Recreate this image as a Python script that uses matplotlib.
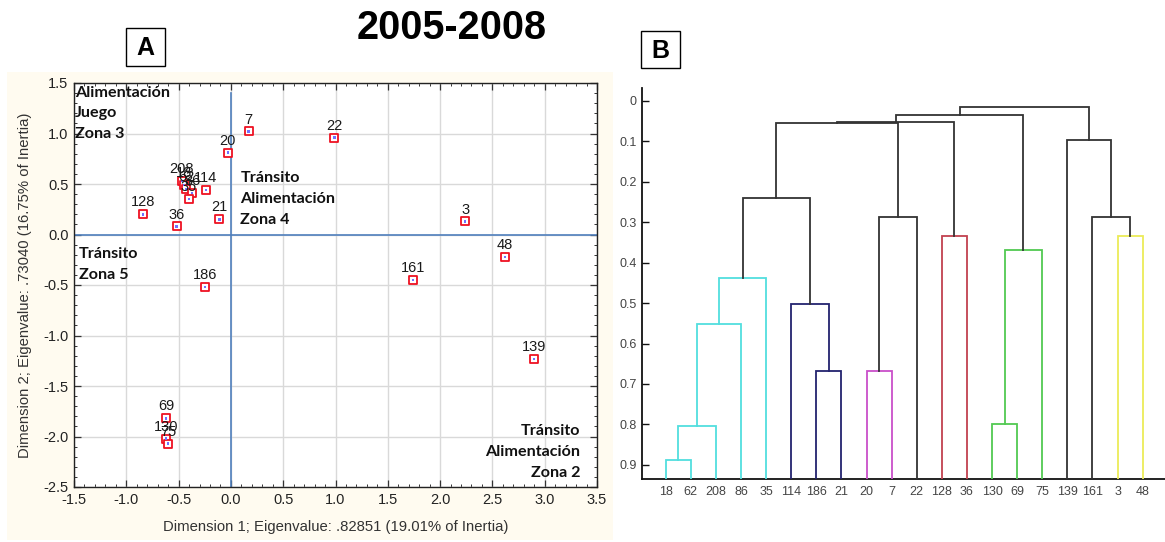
import matplotlib
matplotlib.use("Agg")
import matplotlib.pyplot as plt
from matplotlib.patches import Rectangle

# ---------------- data: panel A (correspondence map) ----------------
point_labels = ['7', '22', '20', '128', '36', '21', '114', '186',
                '208', '18', '62', '86', '35',
                '3', '48', '161', '139', '69', '130', '75']
dim1 = [0.17, 0.99, -0.03, -0.84, -0.52, -0.11, -0.24, -0.25,
        -0.47, -0.45, -0.43, -0.37, -0.40,
        2.24, 2.62, 1.74, 2.90, -0.62, -0.62, -0.60]
dim2 = [1.02, 0.96, 0.81, 0.20, 0.08, 0.15, 0.44, -0.52,
        0.53, 0.49, 0.45, 0.41, 0.35,
        0.13, -0.22, -0.45, -1.23, -1.82, -2.02, -2.07]

zone_texts = ['Alimentación\nJuego\nZona 3',
              'Tránsito\nAlimentación\nZona 4',
              'Tránsito\nZona 5',
              'Tránsito\nAlimentación\nZona 2']
zone_x = [-1.49, 0.09, -1.45, 3.34]
zone_y = [1.475, 0.625, -0.125, -1.88]
zone_ha = ['left', 'left', 'left', 'right']

xticks_a = [-1.5, -1.0, -0.5, 0.0, 0.5, 1.0, 1.5, 2.0, 2.5, 3.0, 3.5]
yticks_a = [-2.5, -2.0, -1.5, -1.0, -0.5, 0.0, 0.5, 1.0, 1.5]
xlabel_a = 'Dimension 1; Eigenvalue: .82851 (19.01% of Inertia)'
ylabel_a = 'Dimension 2; Eigenvalue: .73040 (16.75% of Inertia)'

# ---------------- data: panel B (dendrogram) ----------------
leaves = ['18', '62', '208', '86', '35', '114', '186', '21', '20', '7',
          '22', '128', '36', '130', '69', '75', '139', '161', '3', '48']
# (name, left child, right child, height, colour key)
merges = [
    ('m0', '18', '62', 0.889, 'cyan'),
    ('m1', 'm0', '208', 0.804, 'cyan'),
    ('m2', 'm1', '86', 0.551, 'cyan'),
    ('m3', 'm2', '35', 0.437, 'cyan'),
    ('m4', '186', '21', 0.667, 'navy'),
    ('m5', '114', 'm4', 0.501, 'navy'),
    ('m6', 'm3', 'm5', 0.241, 'black'),
    ('m7', '20', '7', 0.667, 'magenta'),
    ('m8', 'm7', '22', 0.286, 'black'),
    ('m9', 'm6', 'm8', 0.054, 'black'),
    ('m10', '128', '36', 0.334, 'red'),
    ('m11', 'm9', 'm10', 0.051, 'black'),
    ('m12', '130', '69', 0.799, 'green'),
    ('m13', 'm12', '75', 0.369, 'green'),
    ('m14', 'm11', 'm13', 0.036, 'black'),
    ('m15', '3', '48', 0.334, 'yellow'),
    ('m16', '161', 'm15', 0.286, 'black'),
    ('m17', '139', 'm16', 0.0965, 'black'),
    ('m18', 'm14', 'm17', 0.014, 'black'),
]
yticks_b = [0, 0.1, 0.2, 0.3, 0.4, 0.5, 0.6, 0.7, 0.8, 0.9]
yticklabels_b = ['0', '0.1', '0.2', '0.3', '0.4', '0.5', '0.6', '0.7', '0.8', '0.9']

link_colors = {'cyan': '#52dede', 'navy': '#23236e', 'magenta': '#c94fc9',
               'red': '#c2414f', 'green': '#52c952', 'yellow': '#ecec58',
               'black': '#333333'}

# ---------------- figure ----------------
W, H = 1165, 542
fig = plt.figure(figsize=(W / 100, H / 100), dpi=100)
fig.patch.set_facecolor('white')

def fx(px):
    return px / W

def fy(py):
    return 1 - py / H

# cream panel background for A
fig.patches.append(Rectangle((fx(7), fy(540)), fx(613) - fx(7), fy(72) - fy(540),
                             transform=fig.transFigure, facecolor='#fffbf0',
                             edgecolor='none', zorder=-5))

sans = ['Liberation Sans', 'DejaVu Sans']
bold_lab = ['Lato', 'DejaVu Sans']

# title and panel letters
fig.text(fx(452), fy(28), '2005-2008', ha='center', va='center',
         fontsize=28.5, fontweight='bold', family=sans)
for letter, (x0, y0, x1, y1) in [('A', (126, 28, 165, 66)), ('B', (641, 31, 680, 68))]:
    fig.patches.append(Rectangle((fx(x0), fy(y1)), fx(x1) - fx(x0), fy(y0) - fy(y1),
                                 transform=fig.transFigure, facecolor='white',
                                 edgecolor='black', linewidth=1.0, zorder=1))
    fig.text(fx((x0 + x1) / 2), fy((y0 + y1) / 2 + 1), letter, ha='center', va='center',
             fontsize=18, fontweight='bold', family=sans, zorder=2)

# ---------------- panel A ----------------
axA = fig.add_axes([fx(74), fy(487), fx(597) - fx(74), fy(83) - fy(487)])
axA.set_zorder(2)
axA.set_facecolor('white')
axA.set_xlim(-1.5, 3.5)
axA.set_ylim(-2.5, 1.5)
axA.set_xticks(xticks_a)
axA.set_yticks(yticks_a)
axA.set_xticklabels([f'{v:.1f}' for v in xticks_a])
axA.set_yticklabels([f'{v:.1f}' for v in yticks_a])
axA.xaxis.set_minor_locator(matplotlib.ticker.MultipleLocator(0.1))
axA.yaxis.set_minor_locator(matplotlib.ticker.MultipleLocator(0.1))
axA.tick_params(which='both', direction='in', top=True, right=True,
                labelsize=10.5, labelcolor='#222222', color='#333333')
axA.tick_params(which='major', length=5, width=0.9, pad=4)
axA.tick_params(which='minor', length=2.5, width=0.7)
axA.grid(True, which='major', color='#d9d9d9', linewidth=1.0)
axA.set_axisbelow(True)
for lbl in axA.get_xticklabels() + axA.get_yticklabels():
    lbl.set_family(sans)
for s in axA.spines.values():
    s.set_color('#222222')
    s.set_linewidth(1.0)

axA.plot([0, 0], [-2.5, 1.40], color='#4f7fbd', linewidth=1.2, zorder=2)
axA.axhline(0, color='#4f7fbd', linewidth=1.2, zorder=2)

axA.scatter(dim1, dim2, marker='s', s=30, facecolor='white', edgecolor='#ee1122',
            linewidth=1.3, zorder=4)
axA.scatter(dim1, dim2, marker='s', s=3, facecolor='#7070ff', edgecolor='none', zorder=5)
for lab, x, y in zip(point_labels, dim1, dim2):
    axA.annotate(lab, (x, y), xytext=(0, 3.5), textcoords='offset points',
                 ha='center', va='bottom', fontsize=10.5, color='#1a1a1a',
                 family=sans, zorder=6)

for t, x, y, ha in zip(zone_texts, zone_x, zone_y, zone_ha):
    axA.text(x, y, t, ha=ha, va='top', multialignment=ha, fontsize=11.6,
             fontweight='bold', family=bold_lab, color='#111111',
             linespacing=1.6, zorder=6)

axA.set_xlabel(xlabel_a, fontsize=10.7, color='#333333', family=sans, labelpad=10)
axA.set_ylabel(ylabel_a, fontsize=10.7, color='#333333', family=sans, labelpad=8)

# ---------------- panel B ----------------
base = 0.935
axB = fig.add_axes([fx(642), fy(479), 1 - fx(642), fy(88) - fy(479)])
axB.set_facecolor('white')
axB.set_xlim(-0.944, 19.89)
axB.set_ylim(base, -0.032)
for side in ['top', 'right']:
    axB.spines[side].set_visible(False)
for side in ['left', 'bottom']:
    axB.spines[side].set_color('#111111')
    axB.spines[side].set_linewidth(1.3)

pos = {lab: i for i, lab in enumerate(leaves)}
hgt = {lab: base for lab in leaves}
for name, a, b, h, ck in merges:
    xa, xb = pos[a], pos[b]
    c = link_colors[ck]
    axB.plot([xa, xa, xb, xb], [hgt[a], h, h, hgt[b]], color=c,
             linewidth=1.3, solid_joinstyle='miter', zorder=3)
    pos[name] = (xa + xb) / 2
    hgt[name] = h

axB.set_yticks(yticks_b)
axB.set_yticklabels(yticklabels_b)
axB.set_xticks(range(len(leaves)))
axB.set_xticklabels(leaves)
axB.tick_params(axis='y', direction='in', length=5, width=1.0, color='#111111',
                labelsize=9, labelcolor='#444444', pad=4)
axB.tick_params(axis='x', length=0, labelsize=9, labelcolor='#444444', pad=5)
for lbl in axB.get_xticklabels() + axB.get_yticklabels():
    lbl.set_family(sans)

fig.savefig('out.png', dpi=100, facecolor=fig.get_facecolor())
